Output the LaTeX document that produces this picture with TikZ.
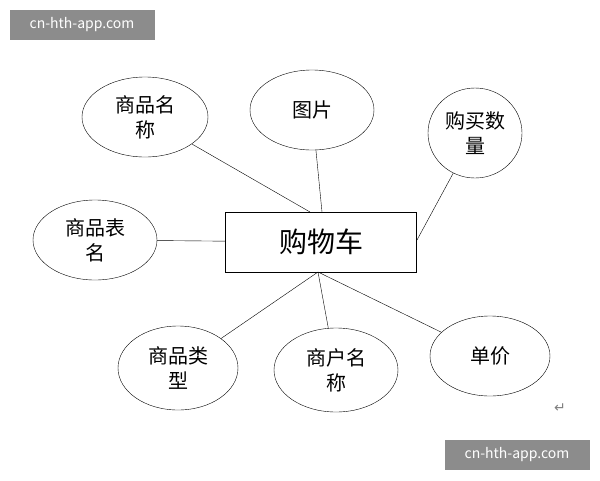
\documentclass[tikz,border=0pt]{standalone}
\usepackage{fontspec}
\setmainfont{Noto Sans CJK SC}
\newfontfamily\markfont{DejaVu Sans}
\usetikzlibrary{shapes.geometric}
\begin{document}
\begin{tikzpicture}[x=1pt,y=-1pt,thin,
  attr node/.style={ellipse,draw,align=center,font=\fontsize{20}{25}\selectfont,inner sep=0pt},
  mark box/.style={fill=black!45,text=white,font=\fontsize{14}{16}\selectfont,minimum width=145pt,minimum height=30pt,inner sep=0pt}]
\useasboundingbox (0,0) rectangle (600,480);

\node[mark box] (m1) at (82,25) {cn-hth-app.com};
\node[mark box] (m2) at (517,455) {cn-hth-app.com};

\node[draw,minimum width=191pt,minimum height=60pt,font=\fontsize{28}{32}\selectfont] (cart) at (321,242) {购物车};

\node[attr node,minimum width=126pt,minimum height=80pt] (name) at (145,117) {商品名\\称};
\node[attr node,minimum width=124pt,minimum height=80pt] (pic) at (312,110) {图片};
\node[attr node,minimum width=94pt,minimum height=90pt] (qty) at (475,133) {购买数\\量};
\node[attr node,minimum width=124pt,minimum height=80pt] (table) at (95,240) {商品表\\名};
\node[attr node,minimum width=120pt,minimum height=84pt] (type) at (178,368) {商品类\\型};
\node[attr node,minimum width=124pt,minimum height=84pt] (shop) at (336,370) {商户名\\称};
\node[attr node,minimum width=120pt,minimum height=80pt] (price) at (490,356) {单价};

\coordinate (c1) at (310,212);
\coordinate (c2) at (322,212);
\coordinate (c3) at (417,240);
\coordinate (c4) at (318,272);
\draw (name) -- (c1);
\draw (pic) -- (c2);
\draw (qty) -- (c3);
\draw (table) -- (cart);
\draw (c4) -- (type);
\draw (c4) -- (shop);
\draw (c4) -- (price);

\node[text=black!50,font=\markfont\fontsize{14}{16}\selectfont] (ret) at (560,408) {↵};
\end{tikzpicture}
\end{document}
